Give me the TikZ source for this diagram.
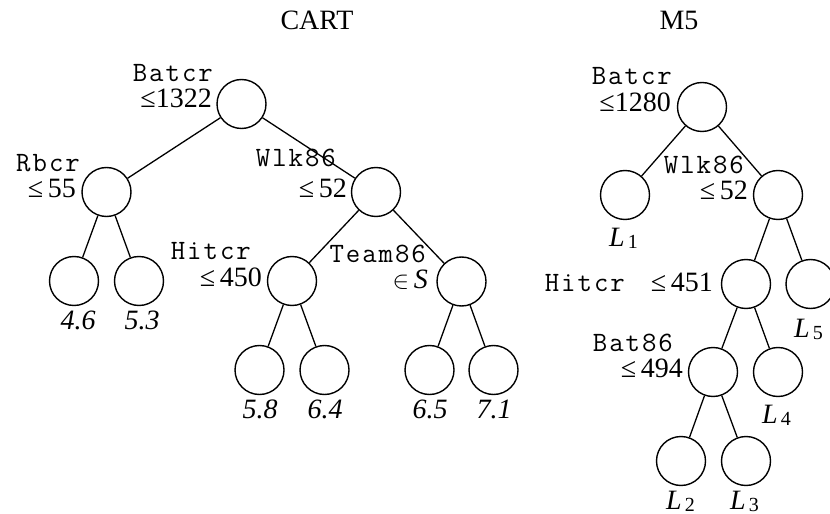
\documentclass[tikz,border=0pt]{standalone}
\usepackage{fontspec}
\setmainfont{Liberation Serif}
\newfontfamily\cmono[LetterSpace=7]{Latin Modern Mono}
\begin{document}
\begin{tikzpicture}[x=1bp,y=-1bp,
  every node/.style={inner sep=0pt, font=\fontsize{28bp}{30bp}\selectfont},
  nd/.style={circle, draw, line width=1.4bp, minimum size=49bp},
  lbl/.style={anchor=base east},
  mono/.style={lbl, font=\cmono\fontsize{28bp}{30bp}\selectfont},
  leafv/.style={anchor=base, font=\fontsize{28bp}{30bp}\selectfont\itshape},
  leafL/.style={anchor=base west},
  edge/.style={line width=1.3bp}]
\useasboundingbox (0,0) rectangle (830,514);
% titles
\node[anchor=base] (t1) at (317,30) {CART};
\node[anchor=base] (t2) at (679,30) {M5};
% CART nodes
\node[nd] (r) at (241.5,104) {};
\node[nd] (a) at (106.5,192) {};
\node[nd] (b) at (376,192) {};
\node[nd] (a1) at (74,281) {};
\node[nd] (a2) at (139,281) {};
\node[nd] (b1) at (292,281) {};
\node[nd] (b2) at (461.5,281.5) {};
\node[nd] (c1) at (259.5,370) {};
\node[nd] (c2) at (324.5,370) {};
\node[nd] (d1) at (429.5,370) {};
\node[nd] (d2) at (493.5,370) {};
\draw[edge] (r) -- (a);
\draw[edge] (r) -- (b);
\draw[edge] (a) -- (a1);
\draw[edge] (a) -- (a2);
\draw[edge] (b) -- (b1);
\draw[edge] (b) -- (b2);
\draw[edge] (b1) -- (c1);
\draw[edge] (b1) -- (c2);
\draw[edge] (b2) -- (d1);
\draw[edge] (b2) -- (d2);
% CART labels
\node[mono] (lr1) at (213,82) {Batcr};
\node[lbl] (lr2) at (212,108) {≤1322};
\node[mono] (la1) at (80,172) {Rbcr};
\node[lbl] (la2) at (76,198) {≤\,55};
\node[mono] (lb1) at (336,167) {Wlk86};
\node[lbl] (lb2) at (347,198) {≤\,52};
\node[mono] (lc1) at (251,260) {Hitcr};
\node[lbl] (lc2) at (262,287) {≤\,450};
\node[mono] (ld1) at (426,263) {Team86};
\node[lbl] (ld2) at (428,289) {$\in$\,\textit{S}};
\node[leafv] (v1) at (78,330) {4.6};
\node[leafv] (v2) at (142,330) {5.3};
\node[leafv] (v3) at (260,418) {5.8};
\node[leafv] (v4) at (325,418) {6.4};
\node[leafv] (v5) at (430,418) {6.5};
\node[leafv] (v6) at (494,418) {7.1};
% M5 nodes
\node[nd] (m) at (702,107) {};
\node[nd] (m1) at (625,195) {};
\node[nd] (m2) at (778,195) {};
\node[nd] (h) at (746,284) {};
\node[nd] (l5) at (810.5,284) {};
\node[nd] (bt) at (713,372) {};
\node[nd] (l4) at (778,372) {};
\node[nd] (l2) at (681,461) {};
\node[nd] (l3) at (746,461) {};
\draw[edge] (m) -- (m1);
\draw[edge] (m) -- (m2);
\draw[edge] (m2) -- (h);
\draw[edge] (m2) -- (l5);
\draw[edge] (h) -- (bt);
\draw[edge] (h) -- (l4);
\draw[edge] (bt) -- (l2);
\draw[edge] (bt) -- (l3);
% M5 labels
\node[mono] (lm1) at (672,85) {Batcr};
\node[lbl] (lm2) at (671,112) {≤1280};
\node[mono] (lw1) at (744,174) {Wlk86};
\node[lbl] (lw2) at (748,200) {≤\,52};
\node[mono] (lh1) at (625,292) {Hitcr};
\node[lbl] (lh2) at (713,292) {≤\,451};
\node[mono] (lt1) at (673,351) {Bat86};
\node[lbl] (lt2) at (683,377) {≤\,494};
\newcommand{\leafname}[1]{\textit{L}\hspace{3bp}\raisebox{-2bp}{\fontsize{20bp}{20bp}\selectfont #1}}
\node[leafL] (n1) at (609,247) {\leafname{1}};
\node[leafL] (n5) at (794,337) {\leafname{5}};
\node[leafL] (n4) at (762,423) {\leafname{4}};
\node[leafL] (n2) at (666,509) {\leafname{2}};
\node[leafL] (n3) at (730,509) {\leafname{3}};
\end{tikzpicture}
\end{document}
